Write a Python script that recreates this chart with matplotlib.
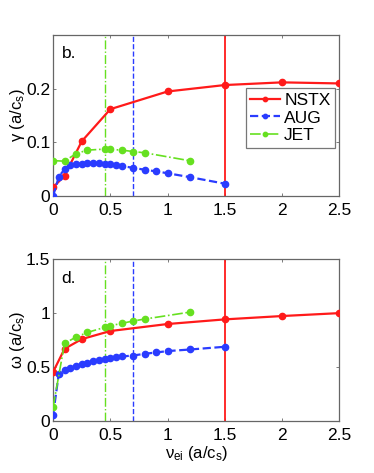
import matplotlib
matplotlib.use("Agg")
import matplotlib.pyplot as plt

plt.rcParams['font.family'] = ['Liberation Sans', 'DejaVu Sans']
plt.rcParams['mathtext.fontset'] = 'custom'
plt.rcParams['mathtext.rm'] = 'Liberation Sans'
plt.rcParams['mathtext.it'] = 'Liberation Sans'

# NSTX
nstx_x = [0, 0.1, 0.25, 0.5, 1.0, 1.5, 2.0, 2.5]
nstx_gamma = [0.016, 0.038, 0.102, 0.162, 0.195, 0.207, 0.212, 0.210]
nstx_omega = [0.455, 0.669, 0.759, 0.834, 0.899, 0.942, 0.973, 1.0]

# AUG
aug_x = [0, 0.05, 0.1, 0.15, 0.2, 0.25, 0.3, 0.35, 0.4, 0.45, 0.5, 0.55, 0.6,
         0.7, 0.8, 0.9, 1.0, 1.2, 1.5]
aug_gamma = [0.0, 0.036, 0.050, 0.057, 0.059, 0.060, 0.061, 0.061, 0.061, 0.0595,
             0.059, 0.0575, 0.056, 0.0525, 0.049, 0.046, 0.0425, 0.035, 0.023]
aug_omega = [0.059, 0.44, 0.471, 0.493, 0.511, 0.527, 0.539, 0.552, 0.561, 0.570,
             0.583, 0.592, 0.598, 0.607, 0.623, 0.635, 0.648, 0.663, 0.688]

# JET
jet_x = [0, 0.1, 0.2, 0.3, 0.45, 0.5, 0.6, 0.7, 0.8, 1.2]
jet_gamma = [0.066, 0.065, 0.079, 0.0856, 0.0875, 0.087, 0.0856, 0.083, 0.0806, 0.0656]
jet_omega = [0.13, 0.719, 0.778, 0.821, 0.868, 0.883, 0.905, 0.927, 0.945, 1.01]

# Marker lines
vline_x = {'JET': 0.45, 'AUG': 0.7, 'NSTX': 1.5}

xticks = [0, 0.5, 1, 1.5, 2, 2.5]
xticklabels = ['0', '0.5', '1', '1.5', '2', '2.5']

RED = '#ff1a1a'
BLUE = '#2a3cff'
GREEN = '#66e020'
FS = 12.5
LFS = 12

fig = plt.figure(figsize=(3.74, 4.73), dpi=100)
ax1 = fig.add_axes([0.142, 0.5856, 0.765, 0.340])
ax2 = fig.add_axes([0.142, 0.110, 0.765, 0.342])

def style(ax):
    for s in ax.spines.values():
        s.set_color('#666666')
        s.set_linewidth(0.9)
    ax.tick_params(direction='in', top=True, right=True, length=2.5,
                   width=0.6, colors='#666666', labelcolor='black',
                   labelsize=FS)
    ax.tick_params(axis='x', pad=5)
    ax.tick_params(axis='y', pad=2)
    ax.set_xlim(0, 2.5)
    ax.set_xticks(xticks)
    ax.set_xticklabels(xticklabels)

ms = 4.5
for ax, g_n, g_a, g_j in [(ax1, nstx_gamma, aug_gamma, jet_gamma),
                          (ax2, nstx_omega, aug_omega, jet_omega)]:
    ax.axvline(vline_x['JET'], color=GREEN, ls='-.', lw=1.0)
    ax.axvline(vline_x['AUG'], color=BLUE, ls='--', lw=1.0)
    ax.axvline(vline_x['NSTX'], color=RED, ls='-', lw=1.3)
    ax.plot(nstx_x, g_n, '-o', color=RED, lw=1.6, ms=ms, label='NSTX', zorder=3)
    ax.plot(aug_x, g_a, '--o', color=BLUE, lw=1.6, ms=ms, label='AUG', zorder=3)
    ax.plot(jet_x, g_j, '-.o', color=GREEN, lw=1.2, ms=ms, label='JET', zorder=3)
    style(ax)

ax1.set_ylim(0, 0.3)
ax1.set_yticks([0, 0.1, 0.2])
ax1.set_yticklabels(['0', '0.1', '0.2'])
ax1.set_ylabel(r'$\gamma$ (a/c$_\mathrm{s}$)', fontsize=LFS)
ax1.yaxis.set_label_coords(-0.09, 0.5)
ax1.text(0.03, 0.93, 'b.', transform=ax1.transAxes, fontsize=FS, va='top', ha='left')
leg = ax1.legend(loc='upper right', bbox_to_anchor=(0.985, 0.67), fontsize=FS,
                 handlelength=1.7, handletextpad=0.25, borderpad=0.25,
                 labelspacing=0.15, borderaxespad=0, frameon=True, fancybox=False,
                 markerscale=0.7)
leg.get_frame().set_edgecolor('#555555')
leg.get_frame().set_linewidth(0.9)

ax2.set_ylim(0, 1.5)
ax2.set_yticks([0, 0.5, 1, 1.5])
ax2.set_yticklabels(['0', '0.5', '1', '1.5'])
ax2.set_ylabel(r'$\omega$ (a/c$_\mathrm{s}$)', fontsize=LFS)
ax2.yaxis.set_label_coords(-0.09, 0.5)
ax2.set_xlabel(r'$\nu_\mathrm{ei}$ (a/c$_\mathrm{s}$)', fontsize=LFS, labelpad=1)
ax2.text(0.03, 0.93, 'd.', transform=ax2.transAxes, fontsize=FS, va='top', ha='left')

fig.savefig('out.png', dpi=100)
